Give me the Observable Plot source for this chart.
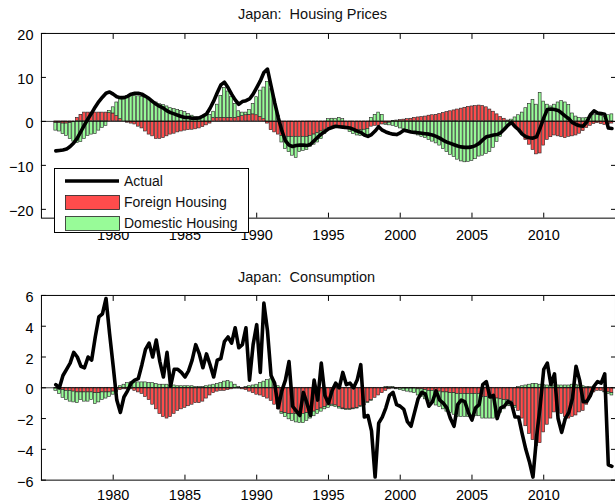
<!DOCTYPE html>
<html>
<head>
<meta charset="utf-8">
<script src="https://cdn.jsdelivr.net/npm/d3@7"></script>
<script src="https://cdn.jsdelivr.net/npm/@observablehq/plot@0.6"></script>
<style>
  body { margin: 0; background: #fff; }
  #fig { position: relative; width: 615px; height: 504px; overflow: hidden; background: #fff;
         font-family: "Liberation Sans", Arial, Helvetica, sans-serif; }
  #fig > svg { position: absolute; left: 0; }
</style>
</head>
<body>
<div id="fig"></div>
<script>
// Quarterly contributions, 1976Q1 onwards
const startYear = 1976;
const seriesNames = ["Foreign Housing", "Domestic Housing"];
const seriesColors = ["#ff4c4c", "#98fb98"];
const xTicks = [1980, 1985, 1990, 1995, 2000, 2005, 2010];

const housingTicks = [-20, -10, 0, 10, 20];
const housingForeign = [
  -0.4, -0.4, -0.5, -0.5, -0.4, -0.2, 0.8, 1.5, 2.0, 2.0, 2.0, 2.0, 2.0, 2.0, 2.0, 1.9,
  1.8, 1.2, 0.5, 0.0, -0.3, -0.5, -0.7, -1.2, -1.6, -2.3, -3.0, -3.4, -4.0, -4.0, -3.8, -3.4,
  -3.0, -2.8, -2.5, -2.3, -2.1, -2.0, -1.9, -1.8, -1.6, -1.3, -0.9, -0.5, 0.8, 0.8, 0.8, 0.8,
  0.8, 0.8, 0.8, 1.0, 1.2, 1.4, 1.5, 1.6, 1.4, 1.0, 0.5, -0.5, -2.0, -2.5, -3.0, -3.3,
  -3.5, -3.5, -3.5, -3.5, -3.5, -3.5, -3.5, -3.3, -3.0, -2.7, -2.3, -1.9, -1.5, -1.2, -1.0, -1.0,
  -1.3, -1.5, -1.7, -1.9, -2.0, -2.0, -1.9, -1.7, -1.2, -1.0, -1.0, -0.7, -0.5, -0.3, 0.1, 0.2,
  0.3, 0.4, 0.5, 0.6, 0.8, 0.9, 1.0, 1.1, 1.3, 1.4, 1.5, 1.7, 1.9, 2.1, 2.3, 2.5,
  2.7, 2.9, 3.1, 3.3, 3.4, 3.5, 3.6, 3.5, 3.2, 2.7, 2.2, 1.6, 1.0, 0.6, 0.2, -0.3,
  -1.2, -2.0, -3.0, -4.2, -5.3, -6.5, -7.5, -7.3, -5.5, -4.2, -3.6, -3.2, -3.4, -3.6, -3.8, -3.5,
  -3.4, -3.2, -2.8, -2.2, -1.5, -1.0, -0.6, -0.4, -0.6, -0.8, -0.7, -0.5
];
const housingDomestic = [
  -1.7, -1.9, -2.4, -2.8, -3.6, -4.4, -4.9, -4.7, -4.0, -3.3, -3.0, -2.9, -2.1, -1.5, -1.0, 0.5,
  1.4, 3.1, 4.6, 5.5, 5.7, 5.8, 5.8, 5.7, 5.6, 5.4, 5.0, 4.7, 4.3, 3.9, 3.7, 3.4,
  3.0, 2.8, 2.6, 2.4, 2.1, 1.7, 1.3, 1.0, 0.9, 1.0, 1.4, 1.5, 1.4, 3.0, 5.0, 6.8,
  6.0, 4.7, 3.2, 1.3, 0.8, 0.6, 1.1, 2.4, 4.1, 6.0, 7.2, 9.0, 7.3, 5.0, 1.3, -1.5,
  -2.8, -3.5, -4.3, -4.8, -3.5, -3.2, -3.0, -2.5, -2.3, -2.1, -1.7, -1.0, 0.5, 0.6, 0.6, 0.8,
  0.5, -0.3, -0.7, -1.0, -1.2, -1.3, -1.4, -1.5, 0.8, 1.5, 2.0, 1.5, -0.3, -0.6, -1.0, -1.3,
  -1.6, -1.8, -2.0, -2.4, -2.8, -3.2, -3.5, -3.8, -4.2, -4.6, -5.0, -5.5, -6.3, -7.0, -7.6, -8.1,
  -8.7, -9.1, -9.3, -9.2, -9.0, -8.6, -8.0, -7.8, -7.4, -7.0, -6.0, -4.7, -3.5, -2.0, -0.8, 0.4,
  0.9, 1.4, 2.0, 3.0, 4.0, 4.9, 3.8, 6.5, 4.5, 3.8, 3.4, 3.8, 4.3, 4.6, 4.3, 3.7,
  1.8, 1.1, 0.8, 0.7, 0.8, 1.0, 1.4, 1.5, 1.3, 1.0, 1.4, 1.6
];
const housingActual = [
  -6.7, -6.6, -6.5, -6.3, -5.7, -4.9, -3.8, -2.3, -0.8, 0.6, 1.9, 3.3, 4.5, 5.5, 6.4, 6.7,
  6.2, 5.6, 5.4, 5.4, 5.7, 6.2, 6.4, 6.4, 6.2, 5.7, 5.2, 4.5, 3.9, 3.4, 3.0, 2.4,
  2.0, 1.7, 1.4, 1.1, 0.9, 0.9, 0.7, 0.7, 0.8, 1.2, 1.7, 3.0, 4.6, 6.5, 8.3, 8.9,
  7.7, 6.2, 4.9, 3.9, 4.5, 4.7, 5.1, 6.2, 7.7, 9.2, 11.1, 11.9, 8.1, 4.3, 0.9, -2.1,
  -4.4, -5.4, -5.7, -5.5, -5.4, -5.4, -5.5, -5.2, -4.4, -3.6, -2.9, -2.3, -1.7, -1.4, -1.1, -1.2,
  -1.3, -1.4, -1.5, -1.8, -2.2, -2.5, -3.1, -3.4, -3.0, -2.2, -1.2, -2.0, -2.4, -2.7, -2.9, -3.0,
  -2.6, -2.0, -2.2, -2.4, -2.5, -2.6, -2.7, -2.8, -2.9, -3.1, -3.4, -3.8, -4.3, -4.7, -5.0, -5.3,
  -5.6, -5.8, -5.9, -5.9, -5.8, -5.5, -5.0, -4.2, -3.5, -3.3, -3.1, -3.0, -2.6, -1.8, -0.9, -0.2,
  -1.2, -1.9, -2.9, -3.5, -3.7, -3.8, -3.5, -1.5, 0.8, 2.7, 2.8, 2.7, 2.5, 1.9, 1.2, 0.6,
  -0.3, -0.7, -1.0, -1.1, -0.1, 1.5, 2.4, 1.9, 1.8, 1.6, -1.5, -1.6
];

const consumptionTicks = [-6, -4, -2, 0, 2, 4, 6];
const consumptionForeign = [
  -0.05, -0.1, -0.15, -0.2, -0.2, -0.25, -0.3, -0.3, -0.3, -0.3, -0.3, -0.35, -0.35, -0.3, -0.3, -0.3,
  -0.25, -0.2, -0.15, -0.1, -0.1, -0.1, -0.2, -0.3, -0.4, -0.6, -0.8, -1.1, -1.4, -1.7, -1.9, -2.0,
  -1.9, -1.7, -1.5, -1.4, -1.3, -1.2, -1.1, -1.0, -1.0, -0.9, -0.7, -0.5, -0.35, -0.25, -0.2, -0.2,
  -0.15, -0.1, -0.05, -0.05, -0.1, -0.15, -0.25, -0.35, -0.45, -0.5, -0.6, -0.7, -0.85, -1.1, -1.4, -1.6,
  -1.65, -1.7, -1.7, -1.7, -1.7, -1.7, -1.65, -1.6, -1.55, -1.45, -1.35, -1.25, -1.15, -1.1, -1.15, -1.25,
  -1.35, -1.4, -1.4, -1.35, -1.3, -1.2, -1.1, -0.95, -0.8, -0.65, -0.5, -0.35, -0.2, -0.1, -0.05, -0.05,
  -0.05, -0.05, -0.05, -0.05, -0.05, -0.1, -0.1, -0.15, -0.2, -0.2, -0.25, -0.25, -0.3, -0.3, -0.35, -0.35,
  -0.4, -0.4, -0.4, -0.4, -0.4, -0.4, -0.4, -0.6, -0.6, -0.65, -0.7, -0.7, -0.75, -0.8, -0.8, -0.9,
  -1.2, -1.5, -2.0, -2.5, -3.0, -3.4, -3.8, -3.6, -2.9, -2.4, -2.0, -1.6, -1.5, -1.7, -1.9, -2.0,
  -1.9, -1.8, -1.6, -1.5, -1.1, -0.6, -0.3, -0.2, -0.2, -0.25, -0.3, -0.35
];
const consumptionDomestic = [
  -0.15, -0.3, -0.5, -0.6, -0.7, -0.7, -0.7, -0.5, -0.6, -0.6, -0.5, -0.7, -0.6, -0.5, -0.4, -0.3,
  -0.2, -0.1, 0.1, 0.2, 0.3, 0.35, 0.35, 0.35, 0.35, 0.35, 0.3, 0.3, 0.25, 0.2, 0.2, 0.2,
  0.15, 0.15, 0.1, 0.1, 0.1, 0.1, 0.1, 0.05, 0.05, 0.05, 0.1, 0.15, 0.2, 0.25, 0.3, 0.4,
  0.45, 0.35, 0.2, 0.05, 0.0, 0.05, 0.1, 0.15, 0.2, 0.3, 0.4, 0.5, 0.55, 0.35, 0.1, -0.1,
  -0.25, -0.35, -0.45, -0.55, -0.6, -0.6, -0.5, -0.4, -0.3, -0.25, -0.2, -0.15, -0.15, -0.1, -0.1, -0.1,
  -0.05, -0.05, -0.05, -0.05, -0.05, -0.05, -0.05, -0.05, -0.05, 0.0, 0.0, 0.0, 0.05, 0.05, 0.05, -0.05,
  -0.1, -0.15, -0.2, -0.25, -0.3, -0.4, -0.5, -0.6, -0.7, -0.8, -0.9, -1.0, -1.1, -1.25, -1.3, -1.4,
  -1.5, -1.5, -1.5, -1.5, -1.5, -1.45, -1.45, -1.4, -1.4, -1.35, -1.3, -1.2, -0.9, -0.6, -0.4, -0.3,
  -0.1, 0.05, 0.1, 0.15, 0.2, 0.25, 0.25, 0.2, 0.2, 0.15, 0.15, 0.15, 0.15, 0.15, 0.15, 0.15,
  0.2, 0.2, 0.15, 0.1, 0.05, 0.05, 0.0, 0.0, 0.0, -0.05, -0.1, -0.15
];
const consumptionActual = [
  0.2, 0.0, 0.8, 1.2, 1.6, 2.3, 2.0, 1.4, 1.3, 2.0, 1.8, 3.3, 4.6, 4.8, 5.8, 3.5,
  1.4, -0.8, -1.6, -0.6, -0.2, 0.3, 0.5, 0.6, 1.5, 2.5, 2.9, 2.0, 3.1, 1.7, 0.7, 2.3,
  0.1, 1.2, 1.2, 1.0, 0.7, 1.1, 1.8, 2.8, 2.2, 1.3, 2.2, 1.5, 0.7, 1.8, 1.9, 3.0,
  3.3, 2.9, 3.9, 2.6, 2.8, 3.9, 0.5, 2.8, 4.1, 1.0, 5.5, 3.7, 0.8, 0.3, -1.3, -0.2,
  0.5, 1.7, -1.2, -1.5, -1.8, -0.3, -1.0, -1.8, 0.5, -0.8, 1.6, -0.5, -1.0, -0.2, 0.3, 0.0,
  1.0, 0.2, 0.3, 0.0, 0.5, 1.5, -1.9, -1.8, -2.8, -5.8, -2.3, -1.9, -1.3, -0.5, -0.3, -1.1,
  -1.2, -1.4, -2.2, -2.5, -1.6, -0.7, -0.3, -0.4, -1.2, -0.9, -0.2, -0.8, -1.0, -1.3, -2.0, -2.5,
  -1.1, -0.8, -0.9, -1.6, -2.1, -1.3, -1.1, 0.2, 0.4, -0.6, -0.5, -2.0, -1.3, -1.2, -0.9, -1.0,
  -1.9, -1.9, -3.0, -4.0, -4.8, -5.8, -3.2, -1.2, 1.2, 1.6, 0.2, 0.9, -2.0, -2.9, -2.0, -1.6,
  -0.7, 1.4, 0.5, -0.9, -0.9, -0.5, 0.1, 0.4, 0.3, 0.9, -5.0, -5.1
];

const fontFamily = '"Liberation Sans", Arial, Helvetica, sans-serif';
const fig = document.getElementById("fig");

function quarterTime(i) { return startYear + i / 4; }

function panel({foreign, domestic, actual, yDomain, yTicks, top, height, marginTop, marginBottom, labelPad}) {
  const bars = [];
  [foreign, domestic].forEach((values, s) => {
    values.forEach((v, i) => {
      const t = quarterTime(i);
      bars.push({t, x1: t - 0.1, x2: t + 0.1, series: seriesNames[s], value: v});
    });
  });
  const line = actual.map((v, i) => ({t: quarterTime(i), value: v}));

  const chart = Plot.plot({
    width: 616,
    height,
    marginLeft: 41,
    marginRight: 0,
    marginTop,
    marginBottom,
    style: {fontFamily, fontSize: "14px", color: "#000", background: "transparent", overflow: "visible"},
    x: {domain: [1975, 2015]},
    y: {domain: yDomain},
    color: {domain: seriesNames, range: seriesColors},
    marks: [
      Plot.rectY(bars, Plot.stackY({x1: "x1", x2: "x2", y: "value", fill: "series", stroke: "#222", strokeWidth: 0.6})),
      Plot.ruleY([0], {stroke: "#000", strokeWidth: 0.8}),
      Plot.line(line, {x: "t", y: "value", stroke: "#000", strokeWidth: 3.6, strokeLinejoin: "round", strokeLinecap: "round"}),
      Plot.frame({stroke: "#000", strokeWidth: 1}),
      // inward tick marks on all four sides
      Plot.axisY({anchor: "left", ticks: yTicks, tickSize: 5, inset: 5, stroke: "#000", fill: "none", label: null}),
      Plot.axisY({anchor: "right", ticks: yTicks, tickSize: 5, inset: 5, stroke: "#000", fill: "none", label: null}),
      Plot.axisX({anchor: "bottom", ticks: xTicks, tickSize: 5, inset: 5, stroke: "#000", fill: "none", label: null}),
      Plot.axisX({anchor: "top", ticks: xTicks, tickSize: 5, inset: 5, stroke: "#000", fill: "none", label: null}),
      // tick labels
      Plot.axisY({anchor: "left", ticks: yTicks, tickSize: 0, tickPadding: 8, dy: 2, fontSize: 14.5, fill: "#000", label: null}),
      Plot.axisX({anchor: "bottom", ticks: xTicks, tickSize: 0, tickPadding: labelPad, tickFormat: d => String(d), fontSize: 14.5, fill: "#000", label: null})
    ]
  });
  chart.style.top = top + "px";
  fig.appendChild(chart);
}

panel({foreign: housingForeign, domestic: housingDomestic, actual: housingActual,
       yDomain: [-22, 20], yTicks: housingTicks, top: 0, height: 250, marginTop: 33, marginBottom: 32, labelPad: 12});
panel({foreign: consumptionForeign, domestic: consumptionDomestic, actual: consumptionActual,
       yDomain: [-6, 6], yTicks: consumptionTicks, top: 260, height: 244, marginTop: 35, marginBottom: 24, labelPad: 10});

// Titles and legend drawn on top of both panels
const overlay = d3.create("svg")
  .attr("width", 615).attr("height", 504)
  .style("top", "0px")
  .attr("font-family", fontFamily);

overlay.append("text").attr("x", 238).attr("y", 19).attr("font-size", 14.5).attr("fill", "#111")
  .attr("xml:space", "preserve").style("white-space", "pre").text("Japan:  Housing Prices");
overlay.append("text").attr("x", 238).attr("y", 282).attr("font-size", 14.5).attr("fill", "#111")
  .attr("xml:space", "preserve").style("white-space", "pre").text("Japan:  Consumption");

const legend = overlay.append("g").attr("transform", "translate(54,168)");
legend.append("rect").attr("x", 0.5).attr("y", 0.5).attr("width", 194).attr("height", 64)
  .attr("fill", "#fff").attr("stroke", "#000").attr("stroke-width", 1);
legend.append("line").attr("x1", 11).attr("x2", 65).attr("y1", 13).attr("y2", 13)
  .attr("stroke", "#000").attr("stroke-width", 3.6);
seriesNames.forEach((name, k) => {
  legend.append("rect").attr("x", 11.5).attr("y", 27.5 + k * 21).attr("width", 54).attr("height", 14)
    .attr("fill", seriesColors[k]).attr("stroke", "#222").attr("stroke-width", 0.8);
});
["Actual", ...seriesNames].forEach((name, k) => {
  legend.append("text").attr("x", 70).attr("y", 13 + k * 21).attr("dy", "0.35em")
    .attr("font-size", 14).attr("fill", "#111").text(name);
});
fig.appendChild(overlay.node());
</script>
</body>
</html>
